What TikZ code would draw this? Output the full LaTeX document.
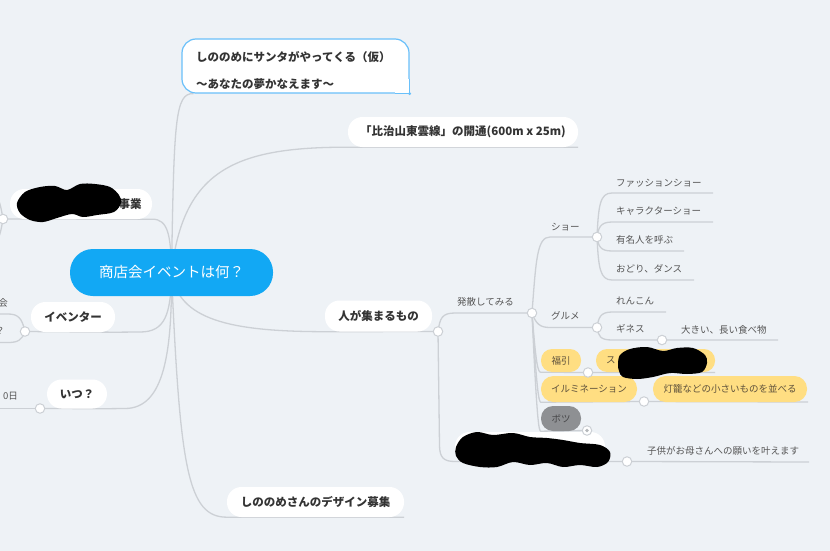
\documentclass[tikz,border=0pt]{standalone}
\usepackage{fontspec}
\setmainfont{Noto Sans CJK JP}
\usetikzlibrary{calc}
\definecolor{bgc}{RGB}{238,242,246}
\definecolor{connc}{RGB}{204,208,213}
\definecolor{rootc}{RGB}{18,168,244}
\definecolor{sblue}{RGB}{105,192,250}
\definecolor{txt}{RGB}{51,51,51}
\definecolor{stxt}{RGB}{85,85,85}
\definecolor{yel}{RGB}{255,222,130}
\definecolor{ytxt}{RGB}{95,82,60}
\definecolor{grayc}{RGB}{142,144,147}
\definecolor{gtxt}{RGB}{70,70,72}
\pgfdeclarelayer{bgl}
\pgfdeclarelayer{lines}
\pgfsetlayers{bgl,lines,main}
\begin{document}
\begin{tikzpicture}[x=1pt,y=-1pt,
  conn/.style={draw=connc, line width=1.3pt},
  rootbox/.style={fill=rootc, rounded corners=23pt, minimum width=203pt, minimum height=47pt, inner sep=0pt, text=white, font=\fontsize{14.5}{16}\selectfont},
  mainpill/.style={fill=white, rounded corners=14.5pt, minimum height=30pt, inner sep=0pt, text=txt, font=\bfseries\fontsize{11.5}{13}\selectfont},
  santabox/.style={fill=white, draw=sblue, line width=1.2pt, rounded corners=14pt, minimum width=227pt, minimum height=54pt, inner sep=0pt},
  santatext/.style={anchor=west, inner sep=0pt, align=left, text=txt, font=\bfseries\fontsize{11.5}{27}\selectfont},
  ypill/.style={fill=yel, rounded corners=11pt, minimum height=23pt, inner sep=0pt, text=ytxt, font=\fontsize{9.5}{11}\selectfont},
  gpill/.style={fill=grayc, rounded corners=12pt, minimum height=25pt, inner sep=0pt, text=gtxt, font=\fontsize{9.5}{11}\selectfont},
  leaf/.style={anchor=west, inner sep=0pt, text=stxt, font=\fontsize{9.5}{11}\selectfont},
  dotc/.style={circle, minimum size=9.5pt, inner sep=0pt, fill=white, draw=connc, line width=1pt},
  blob/.style={fill=black}
]
\useasboundingbox (0,0) rectangle (830,551);
\begin{pgfonlayer}{bgl}
  \fill[bgc] (0,0) rectangle (830,551);
\end{pgfonlayer}

% ---------- main nodes ----------
\node[rootbox] (root) at (171.5,272.5) {商店会イベントは何？};
\node[santabox] (santa) at (295.5,66) {};
\fill[white] ($(santa.south east)+(-15,-15)$) rectangle ($(santa.south east)+(-0.6,-0.6)$);
\draw[sblue, line width=1.2pt] ($(santa.south east)+(-15,0)$) -- (santa.south east) -- ($(santa.south east)+(0,-15)$);
\fill[sblue] (santa.south east) circle (1.6pt);
\node[santatext] (santatxt) at (196,71) {しののめにサンタがやってくる（仮）\\〜あなたの夢かなえます〜};

\node[mainpill, minimum width=230pt] (hiji) at (463,132) {「比治山東雲線」の開通(600m x 25m)};
\node[mainpill, minimum width=107pt, minimum height=31pt] (ppl) at (378.5,316) {人が集まるもの};
\node[mainpill, minimum width=177pt] (design) at (315.5,502) {しののめさんのデザイン募集};
\node[mainpill, minimum width=142pt] (jigyo) at (81,204) {};
\node[anchor=center, inner sep=0pt, text=txt, font=\bfseries\fontsize{11.5}{13}\selectfont] (jigyotxt) at (130,204) {事業};
\node[mainpill, minimum width=84pt] (event) at (73,317) {イベンター};
\node[mainpill, minimum width=60pt, minimum height=29pt] (itsu) at (77,394) {いつ？};
\node[mainpill, minimum width=150pt] (red) at (530,447) {};

% ---------- second level ----------
\node[leaf] (hassan) at (457,302) {発散してみる};
\node[leaf] (show) at (551,227) {ショー};
\node[leaf] (gourmet) at (551,316) {グルメ};
\node[leaf] (fashion) at (616,183) {ファッションショー};
\node[leaf] (chara) at (616,211) {キャラクターショー};
\node[leaf] (yumei) at (616,240) {有名人を呼ぶ};
\node[leaf] (odori) at (616,269) {おどり、ダンス};
\node[leaf] (renkon) at (616,301) {れんこん};
\node[leaf] (guiness) at (616,329) {ギネス};
\node[leaf] (ookii) at (681,330) {大きい、長い食べ物};
\node[leaf] (kodomo) at (647,451) {子供がお母さんへの願いを叶えます};

\node[ypill, minimum width=40pt] (fuku) at (561,360.5) {福引};
\node[ypill, minimum width=119pt] (suka) at (655.5,360.5) {};
\node[anchor=west, inner sep=0pt, text=ytxt, font=\fontsize{9.5}{11}\selectfont] (sukatxt) at (606,360.5) {ス};
\node[ypill, minimum width=96pt, minimum height=26pt, rounded corners=12.5pt] (illum) at (589,389) {イルミネーション};
\node[ypill, minimum width=154pt, minimum height=26pt, rounded corners=12.5pt] (touro) at (730,389) {灯籠などの小さいものを並べる};
\node[gpill, minimum width=40pt] (botsu) at (561,418.5) {ボツ};

% cut-off texts at the left edge
\node[anchor=east, inner sep=0pt, text=stxt, font=\fontsize{9.5}{11}\selectfont] (kai) at (8,303) {会};
\node[anchor=center, inner sep=0pt, text=stxt, font=\fontsize{9.5}{11}\selectfont] (qm) at (0,331) {？};
\node[anchor=west, inner sep=0pt, text=stxt, font=\fontsize{9.5}{11}\selectfont] (nichi) at (3,396) {0日};

% ---------- end points of underlines ----------
\coordinate (e_fashion) at (713,193);
\coordinate (e_chara) at (713,222);
\coordinate (e_yumei) at (684,251);
\coordinate (e_odori) at (694,280);
\coordinate (e_renkon) at (666,312);
\coordinate (e_ookii) at (778,340);
\coordinate (e_suka) at (715,372.5);
\coordinate (e_touro) at (808,402);
\coordinate (e_kodomo) at (809,462);

% ---------- redaction blobs ----------
\fill[blob] plot[smooth cycle, tension=0.55] coordinates {(17,203) (25,192) (40,187) (55,186) (67,190) (80,184) (95,184) (110,187) (119,195) (121,203) (114,212) (97,215) (83,217) (72,214) (57,218) (43,222) (30,220) (20,213)};
\fill[blob] plot[smooth cycle, tension=0.55] coordinates {(618,364) (620,355) (630,349) (647,347) (663,351) (677,348) (693,348) (705,355) (707,363) (702,372) (687,374) (670,373) (653,377) (637,379) (623,377) (619,371)};
\fill[blob] plot[smooth cycle, tension=0.55] coordinates {(456,447) (463,437) (477,432) (493,435) (513,433) (530,437) (547,438) (563,440) (580,443) (600,445) (610,452) (608,462) (597,467) (580,465) (563,467) (547,463) (530,465) (513,462) (497,467) (480,467) (463,463) (456,456)};

% ---------- connection circles ----------
\node[dotc] (c_ppl) at (438,331.5) {};
\node[dotc] (c_hassan) at (532,313) {};
\node[dotc] (c_show) at (597,237) {};
\node[dotc] (c_gourmet) at (597,327.5) {};
\node[dotc] (c_guin) at (662,340) {};
\node[dotc] (c_fuku) at (588,372.5) {};
\node[dotc] (c_illum) at (644,401.5) {};
\node[dotc] (c_botsu) at (587,430.5) {};
\fill[connc!70!gray] (c_botsu.center) circle (1.8pt);
\node[dotc] (c_red) at (627,461.5) {};
\node[dotc] (c_jigyo) at (3,219) {};
\node[dotc] (c_event) at (25,331.5) {};
\node[dotc] (c_itsu) at (40,408.5) {};

% ---------- connectors ----------
\begin{pgfonlayer}{lines}
\draw[conn] (root.center) .. controls (174,120) and (175,93) .. ($(santa.south west)+(12,0)$);
\draw[conn] (root.center) .. controls (183,170) and (235,147) .. (hiji.south west) -- (hiji.south east);
\draw[conn] (root.center) .. controls (178,320) and (230,331.5) .. (ppl.south west) -- (c_ppl.center);
\draw[conn] (root.center) .. controls (180,470) and (188,517) .. (design.south west) -- (design.south east);
\draw[conn] (c_jigyo.center) -- (jigyo.south east) .. controls (168,219) and (171,235) .. (root.center);
\draw[conn] (c_event.center) -- (event.south east) -- (140,332) .. controls (165,332) and (171,315) .. (root.center);
\draw[conn] (c_itsu.center) -- (itsu.south east) -- (125,408.5) .. controls (165,408.5) and (172,350) .. (root.center);
% left edge fragments
\draw[conn] (c_jigyo.center) .. controls (1,208) and (0,198) .. (-8,190);
\draw[conn] (c_jigyo.center) .. controls (1,230) and (0,240) .. (-8,246);
\draw[conn] (c_event.center) .. controls (22,318) and (18,314) .. (8,314) -- (-5,314);
\draw[conn] (c_event.center) .. controls (22,340) and (18,342.5) .. (8,342.5) -- (-5,342.5);
\draw[conn] (c_itsu.center) -- (-5,408.5);
% right side
\draw[conn] (c_ppl.center) .. controls (440,318) and (442,313) .. (455,313) -- (c_hassan.center);
\draw[conn] (c_ppl.center) -- (439.5,445) .. controls (439.5,458) and (444,461.5) .. (455,461.5) -- (c_red.center) -- (e_kodomo);
\draw[conn] (c_hassan.center) .. controls (536,260) and (537,237) .. (550,237) -- (c_show.center);
\draw[conn] (c_hassan.center) .. controls (536,324) and (540,327.5) .. (550,327.5) -- (c_gourmet.center);
\draw[conn] (c_hassan.center) .. controls (536,365) and (538,372.5) .. (fuku.south west) -- (c_fuku.center) -- (e_suka);
\draw[conn] (c_hassan.center) .. controls (537,395) and (539,402) .. (illum.south west) -- (c_illum.center) -- (e_touro);
\draw[conn] (c_hassan.center) .. controls (537,425) and (539,431) .. (botsu.south west) -- (c_botsu.center);
\draw[conn] (c_show.center) .. controls (598.5,205) and (600,193) .. (612,193) -- (e_fashion);
\draw[conn] (c_show.center) .. controls (598.5,228) and (600,222) .. (612,222) -- (e_chara);
\draw[conn] (c_show.center) .. controls (598.5,246) and (600,251) .. (612,251) -- (e_yumei);
\draw[conn] (c_show.center) .. controls (598.5,268) and (600,280) .. (612,280) -- (e_odori);
\draw[conn] (c_gourmet.center) .. controls (598.5,318) and (600,312) .. (612,312) -- (e_renkon);
\draw[conn] (c_gourmet.center) .. controls (598.5,336) and (600,340) .. (612,340) -- (c_guin.center) -- (e_ookii);
\end{pgfonlayer}
\end{tikzpicture}
\end{document}
